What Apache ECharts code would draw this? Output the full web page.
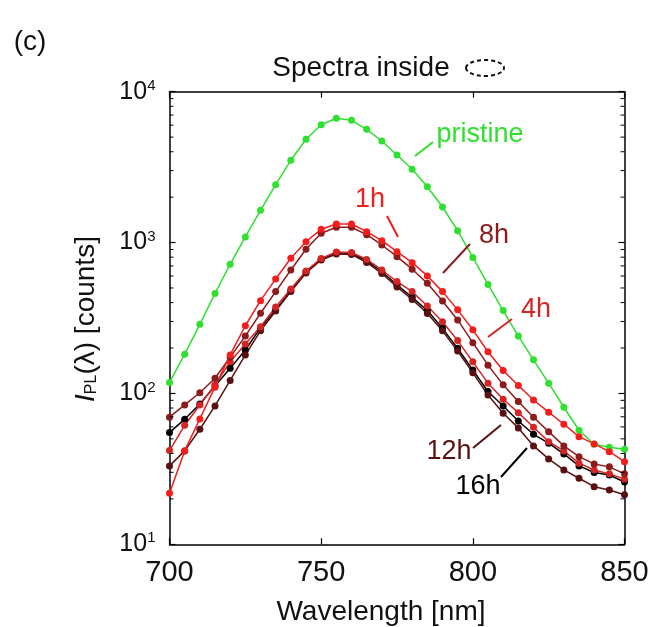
<!DOCTYPE html>
<html><head><meta charset="utf-8">
<script src="https://cdn.jsdelivr.net/npm/echarts@6/dist/echarts.min.js"></script>
<style>html,body{margin:0;padding:0;background:#fff}#c{width:653px;height:627px}</style>
</head><body><div id="c"></div>
<script>
const wavelengths = [700,705,710,715,720,725,730,735,740,745,750,755,760,765,770,775,780,785,790,795,800,805,810,815,820,825,830,835,840,845,850];
const pristine = [118,182,287,460,718,1089,1637,2419,3511,4837,6044,6673,6463,5634,4713,3806,3060,2346,1721,1199,797,528,354,240,167,117,81,57,46,44,42.6];
const h1 = [21.8,41.6,67.8,110,180,281,412,574,787,1014,1225,1328,1328,1181,1029,870,736,601,473,358,264,189,142,113,90.5,75.1,62.5,51.7,46.3,41.1,35.3];
const h4 = [41.8,61.5,83.9,114,162,213,277,374,493,648,785,866,860,773,658,551,473,380,299,224,162,117,91.5,74.6,59.7,47.9,41.6,34.5,31.1,29.3,27.1];
const h8 = [69.6,83.9,101,126,174,240,340,473,658,903,1152,1263,1263,1128,964,806,666,537,410,307,217,154,114,88.5,69.6,55.8,44.9,38.1,34.1,32.6,29.3];
const h12 = [33.1,41.6,57.9,82.6,122,180,260,352,474,629,767,840,834,738,624,508,420,339,260,191,137,97.7,73.9,59.1,44.9,36.8,31.1,27.4,24.1,22.9,21.3];
const h16 = [55.0,67.5,85.2,112,147,194,272,358,480,641,775,857,849,755,641,524,434,354,270,199,143,103,82.6,65.7,53.6,46.8,39.7,33.1,29.9,28.8,25.9];
const xTicks = [700,750,800,850];
const yMajor = [10,100,1000,10000];
const yMinor = [20,30,40,50,60,70,80,90,200,300,400,500,600,700,800,900,2000,3000,4000,5000,6000,7000,8000,9000];

const seriesDefs = [
  {name:'pristine', data: pristine, color:'#2fe02f'},
  {name:'16h', data: h16, color:'#000000'},
  {name:'12h', data: h12, color:'#5a1010'},
  {name:'4h', data: h4, color:'#d42424'},
  {name:'8h', data: h8, color:'#8c1b1b'},
  {name:'1h', data: h1, color:'#f51c1c'}
];

const chart = echarts.init(document.getElementById('c'), null, {renderer:'canvas'});
const FONT = 'Liberation Sans, Arial, sans-serif';
const axisCommon = {
  axisLine:{show:true, onZero:false, lineStyle:{color:'#000', width:1.5}},
  splitLine:{show:false}
};
const series = seriesDefs.map(s => ({
  name: s.name, type:'line', xAxisIndex:0, yAxisIndex:0,
  data: wavelengths.map((w,i)=>[w, s.data[i]]),
  symbol:'circle', symbolSize:7, showSymbol:true,
  lineStyle:{color:s.color, width:1.5}, itemStyle:{color:s.color},
  animation:false, silent:true
}));
series.push({
  type:'custom', xAxisIndex:0, yAxisIndex:0, silent:true, animation:false, z:10,
  data: yMinor.map(v=>[700, v]),
  renderItem: (params, api) => {
    const v = api.value(1);
    const l = api.coord([700, v]);
    const r = api.coord([850, v]);
    return {type:'group', children:[
      {type:'line', shape:{x1:l[0], y1:l[1], x2:l[0]+4, y2:l[1]}, style:{stroke:'#000', lineWidth:1}},
      {type:'line', shape:{x1:r[0], y1:r[1], x2:r[0]-4, y2:r[1]}, style:{stroke:'#000', lineWidth:1}}
    ]};
  }
});

const ann = (text, x, y, color) => ({type:'text', x, y, style:{text, fill:color, font:'27px '+FONT, align:'center', verticalAlign:'middle'}, z:20});
const lead = (x1,y1,x2,y2,color) => ({type:'line', shape:{x1,y1,x2,y2}, style:{stroke:color, lineWidth:2}, z:20});

chart.setOption({
  animation:false,
  backgroundColor:'#fff',
  textStyle:{fontFamily:FONT},
  grid:{left:169.5, right:28.5, top:91.7, bottom:82.7, containLabel:false},
  xAxis:[
    Object.assign({type:'value', position:'bottom', min:700, max:850, interval:50,
      axisTick:{show:true, inside:true, length:6, lineStyle:{color:'#000', width:1.2}},
      axisLabel:{show:true, fontSize:29, color:'#111', margin:14, fontFamily:FONT,
        customValues: xTicks}}, axisCommon),
    Object.assign({type:'value', position:'top', min:700, max:850, interval:50,
      axisTick:{show:true, inside:true, length:6, lineStyle:{color:'#000', width:1.2}},
      axisLabel:{show:false}}, axisCommon)
  ],
  yAxis:[
    Object.assign({type:'log', logBase:10, position:'left', min:10, max:10000,
      axisTick:{show:true, inside:true, length:6, lineStyle:{color:'#000', width:1.2}},
      axisLabel:{show:true, margin:14, fontFamily:FONT,
        formatter: v => '{b|10}{s|' + Math.round(Math.log10(v)) + '}',
        rich:{b:{fontSize:25, color:'#111', fontFamily:FONT}, s:{fontSize:15, color:'#111', fontFamily:FONT, padding:[0,0,12,0]}}}}, axisCommon),
    Object.assign({type:'log', logBase:10, position:'right', min:10, max:10000,
      axisTick:{show:true, inside:true, length:6, lineStyle:{color:'#000', width:1.2}},
      axisLabel:{show:false}}, axisCommon)
  ],
  series,
  graphic:[
    {type:'text', x:30, y:42, style:{text:'(c)', fill:'#111', font:'28px '+FONT, align:'center', verticalAlign:'middle'}},
    {type:'text', x:361, y:68, style:{text:'Spectra inside', fill:'#111', font:'28px '+FONT, align:'center', verticalAlign:'middle'}},
    {type:'ellipse', shape:{cx:485, cy:68, rx:19, ry:8}, style:{stroke:'#111', fill:'none', lineWidth:2, lineDash:[4,3]}},
    {type:'text', x:381, y:612, style:{text:'Wavelength [nm]', fill:'#111', font:'28px '+FONT, align:'center', verticalAlign:'middle'}},
    {type:'text', x:86, y:319, rotation:Math.PI/2, style:{
      text:'{i|I}{sub|PL}{n|(λ) [counts]}', align:'center', verticalAlign:'middle',
      rich:{i:{fontSize:28, fontStyle:'italic', fill:'#111', fontFamily:FONT},
            sub:{fontSize:16, fill:'#111', fontFamily:FONT, padding:[12,0,0,0]},
            n:{fontSize:28, fill:'#111', fontFamily:FONT}}}},
    ann('pristine', 480, 135, '#2fe02f'), lead(415,156,433,142,'#2fe02f'),
    ann('1h', 370, 200, '#f51c1c'), lead(387,216,398,237,'#f51c1c'),
    ann('8h', 494, 236, '#8c1b1b'), lead(470,244,443,273,'#8c1b1b'),
    ann('4h', 536, 310, '#d42424'), lead(488,337,512,319,'#d42424'),
    ann('12h', 449, 452, '#5a1010'), lead(473,448,501,425,'#5a1010'),
    ann('16h', 478, 487, '#000000'), lead(501,477,527,448,'#000000')
  ]
});
</script></body></html>
